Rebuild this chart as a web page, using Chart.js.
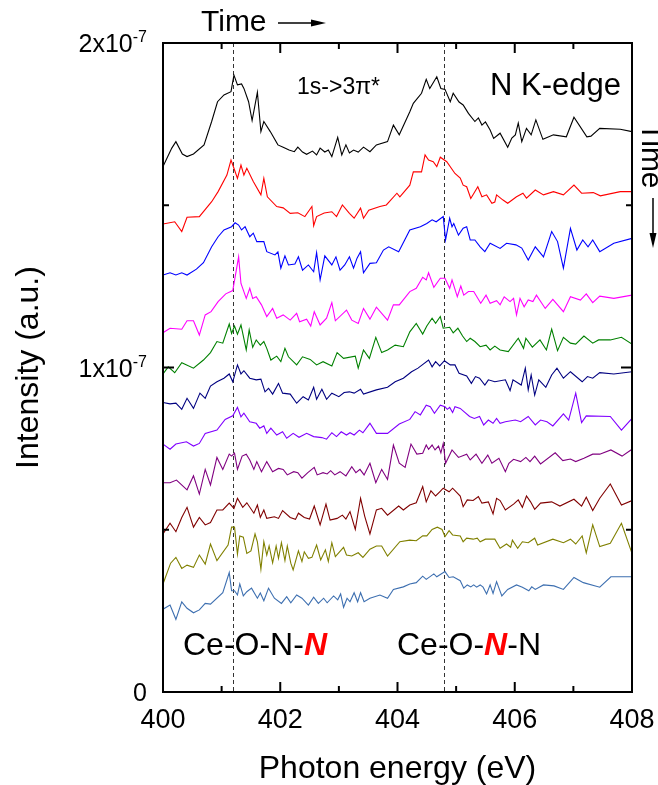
<!DOCTYPE html>
<html>
<head>
<meta charset="utf-8">
<script src="https://cdn.jsdelivr.net/npm/chart.js@4.4.1/dist/chart.umd.min.js"></script>
<style>
html,body{margin:0;padding:0;background:#fff;}
canvas{display:block;}
</style>
</head>
<body>
<canvas id="c" width="658" height="785"></canvas>
<script>
// Intensity values in units of 1e-7 (a.u.), photon energy in eV
const black = [[400.00,1.619],[400.15,1.676],[400.22,1.696],[400.33,1.658],[400.41,1.650],[400.52,1.658],[400.70,1.686],[400.83,1.758],[400.93,1.819],[401.04,1.840],[401.16,1.850],[401.21,1.901],[401.27,1.871],[401.34,1.874],[401.38,1.860],[401.46,1.819],[401.52,1.761],[401.61,1.848],[401.67,1.727],[401.72,1.758],[401.83,1.727],[401.96,1.686],[402.05,1.679],[402.15,1.670],[402.24,1.665],[402.30,1.679],[402.38,1.664],[402.45,1.657],[402.55,1.667],[402.62,1.655],[402.68,1.676],[402.76,1.664],[402.82,1.670],[402.88,1.650],[402.98,1.709],[403.05,1.655],[403.12,1.686],[403.18,1.661],[403.25,1.670],[403.33,1.664],[403.42,1.679],[403.53,1.665],[403.64,1.686],[403.83,1.696],[403.93,1.747],[404.03,1.717],[404.21,1.788],[404.27,1.814],[404.41,1.845],[404.49,1.888],[404.55,1.860],[404.67,1.896],[404.74,1.860],[404.81,1.857],[404.90,1.819],[404.95,1.845],[405.05,1.818],[405.12,1.809],[405.21,1.783],[405.32,1.758],[405.38,1.769],[405.44,1.747],[405.50,1.757],[405.58,1.732],[405.64,1.706],[405.75,1.722],[405.88,1.679],[405.95,1.707],[406.01,1.717],[406.06,1.753],[406.12,1.696],[406.20,1.737],[406.28,1.717],[406.36,1.763],[406.48,1.703],[406.66,1.717],[406.88,1.711],[407.01,1.771],[407.23,1.711],[407.30,1.713],[407.45,1.737],[407.80,1.734],[408.00,1.727]];

const red = [[400.00,1.442],[400.20,1.449],[400.32,1.419],[400.41,1.463],[400.62,1.465],[400.83,1.511],[400.94,1.542],[401.09,1.593],[401.16,1.639],[401.21,1.614],[401.27,1.583],[401.33,1.624],[401.38,1.593],[401.43,1.614],[401.54,1.573],[401.67,1.532],[401.72,1.583],[401.78,1.526],[401.94,1.496],[402.05,1.492],[402.17,1.475],[402.30,1.477],[402.42,1.465],[402.54,1.496],[402.57,1.437],[402.62,1.465],[402.75,1.476],[402.88,1.480],[402.96,1.465],[403.06,1.501],[403.18,1.475],[403.26,1.460],[403.37,1.491],[403.42,1.460],[403.51,1.485],[403.70,1.496],[403.81,1.501],[403.99,1.537],[404.04,1.526],[404.21,1.562],[404.27,1.603],[404.41,1.603],[404.47,1.655],[404.53,1.639],[404.61,1.634],[404.67,1.619],[404.73,1.648],[404.84,1.634],[404.98,1.598],[405.07,1.584],[405.12,1.562],[405.18,1.557],[405.25,1.521],[405.37,1.557],[405.44,1.526],[405.52,1.532],[405.61,1.506],[405.66,1.510],[405.69,1.532],[405.80,1.516],[405.88,1.506],[406.03,1.526],[406.14,1.537],[406.20,1.522],[406.35,1.547],[406.49,1.532],[406.66,1.542],[406.83,1.532],[407.01,1.562],[407.14,1.537],[407.34,1.539],[407.46,1.529],[407.80,1.542],[408.00,1.542]];

const blue = [[400.00,1.285],[400.12,1.292],[400.22,1.285],[400.32,1.292],[400.41,1.285],[400.57,1.303],[400.69,1.323],[400.83,1.372],[400.94,1.403],[401.04,1.424],[401.17,1.434],[401.23,1.446],[401.29,1.439],[401.34,1.424],[401.40,1.434],[401.48,1.403],[401.54,1.414],[401.60,1.388],[401.72,1.388],[401.77,1.357],[401.91,1.347],[401.96,1.356],[402.01,1.306],[402.08,1.344],[402.14,1.316],[402.25,1.319],[402.31,1.341],[402.38,1.300],[402.48,1.316],[402.57,1.295],[402.62,1.354],[402.68,1.270],[402.76,1.344],[402.88,1.316],[402.95,1.341],[403.02,1.300],[403.10,1.316],[403.18,1.341],[403.25,1.306],[403.31,1.337],[403.37,1.357],[403.42,1.292],[403.53,1.321],[403.64,1.323],[403.76,1.362],[403.85,1.372],[404.02,1.357],[404.21,1.424],[404.39,1.434],[404.50,1.444],[404.59,1.455],[404.66,1.449],[404.78,1.465],[404.82,1.393],[404.89,1.460],[404.93,1.434],[404.96,1.444],[405.04,1.408],[405.12,1.429],[405.18,1.434],[405.24,1.393],[405.32,1.393],[405.41,1.372],[405.49,1.357],[405.58,1.383],[405.75,1.367],[405.86,1.383],[406.02,1.378],[406.12,1.368],[406.23,1.331],[406.35,1.372],[406.49,1.341],[406.63,1.419],[406.73,1.388],[406.83,1.306],[406.95,1.429],[407.06,1.362],[407.16,1.393],[407.25,1.372],[407.33,1.393],[407.45,1.357],[407.69,1.383],[408.00,1.398]];

const magenta = [[400.00,1.107],[400.12,1.121],[400.32,1.118],[400.41,1.144],[400.52,1.144],[400.62,1.100],[400.72,1.162],[400.82,1.172],[400.94,1.203],[401.07,1.227],[401.19,1.237],[401.29,1.341],[401.33,1.259],[401.42,1.213],[401.48,1.244],[401.53,1.213],[401.59,1.218],[401.68,1.193],[401.77,1.157],[401.87,1.182],[401.94,1.152],[402.05,1.162],[402.17,1.146],[402.28,1.167],[402.33,1.141],[402.45,1.149],[402.52,1.128],[402.58,1.172],[402.68,1.131],[402.79,1.152],[402.88,1.200],[402.94,1.144],[403.13,1.177],[403.22,1.146],[403.33,1.136],[403.42,1.182],[403.53,1.149],[403.64,1.186],[403.83,1.146],[403.93,1.193],[404.03,1.193],[404.21,1.234],[404.32,1.244],[404.43,1.278],[404.49,1.270],[404.53,1.292],[404.62,1.247],[404.73,1.275],[404.81,1.275],[404.89,1.244],[404.93,1.270],[405.02,1.218],[405.08,1.251],[405.13,1.223],[405.21,1.234],[405.30,1.234],[405.42,1.198],[405.51,1.223],[405.58,1.198],[405.69,1.206],[405.75,1.193],[405.82,1.218],[405.92,1.203],[405.98,1.213],[406.03,1.162],[406.09,1.213],[406.16,1.187],[406.23,1.208],[406.31,1.203],[406.37,1.223],[406.52,1.182],[406.65,1.210],[406.83,1.172],[406.95,1.218],[407.12,1.208],[407.22,1.227],[407.33,1.200],[407.45,1.220],[407.69,1.213],[408.00,1.223]];

const green = [[400.00,0.980],[400.09,1.002],[400.20,0.984],[400.32,1.015],[400.52,0.998],[400.69,1.023],[400.81,1.046],[400.92,1.080],[401.02,1.075],[401.13,1.134],[401.17,1.105],[401.22,1.128],[401.27,1.103],[401.33,1.131],[401.42,1.054],[401.47,1.116],[401.53,1.062],[401.59,1.085],[401.66,1.069],[401.72,1.080],[401.77,1.059],[401.84,1.023],[401.94,1.035],[402.01,1.018],[402.08,1.059],[402.14,1.033],[402.28,1.008],[402.38,1.033],[402.51,1.025],[402.62,1.008],[402.73,1.018],[402.88,1.005],[402.97,1.046],[403.08,1.028],[403.28,1.035],[403.33,0.998],[403.42,1.054],[403.52,1.028],[403.63,1.093],[403.73,1.046],[403.83,1.054],[403.96,1.069],[404.10,1.064],[404.21,1.110],[404.32,1.136],[404.43,1.103],[404.50,1.128],[404.59,1.152],[404.65,1.136],[404.73,1.157],[404.78,1.121],[404.89,1.124],[404.95,1.107],[405.03,1.121],[405.11,1.097],[405.18,1.080],[405.24,1.090],[405.32,1.080],[405.41,1.064],[405.51,1.069],[405.58,1.054],[405.66,1.066],[405.75,1.054],[405.89,1.049],[406.06,1.090],[406.15,1.059],[406.19,1.090],[406.30,1.063],[406.43,1.085],[406.54,1.054],[406.63,1.118],[406.73,1.052],[406.83,1.093],[406.95,1.075],[407.04,1.072],[407.18,1.097],[407.33,1.075],[407.43,1.085],[407.63,1.085],[407.82,1.093],[408.00,1.072]];

const navy = [[400.00,0.892],[400.12,0.888],[400.22,0.890],[400.32,0.871],[400.41,0.905],[400.52,0.874],[400.63,0.921],[400.72,0.905],[400.81,0.943],[400.92,0.956],[401.04,0.967],[401.13,0.980],[401.19,0.956],[401.27,1.008],[401.33,0.980],[401.38,0.990],[401.48,0.967],[401.59,0.962],[401.67,0.964],[401.74,0.925],[401.80,0.936],[401.87,0.918],[401.97,0.951],[402.04,0.921],[402.17,0.918],[402.28,0.890],[402.39,0.910],[402.48,0.900],[402.57,0.939],[402.62,0.902],[402.71,0.933],[402.79,0.902],[402.88,0.921],[403.00,0.910],[403.09,0.923],[403.18,0.925],[403.26,0.921],[403.37,0.933],[403.42,0.918],[403.64,0.931],[403.83,0.939],[403.96,0.956],[404.10,0.967],[404.24,0.987],[404.35,0.998],[404.53,1.023],[404.59,1.002],[404.65,1.018],[404.72,1.005],[404.80,1.021],[404.90,1.008],[404.98,1.008],[405.05,0.982],[405.18,0.974],[405.26,0.951],[405.33,0.972],[405.40,0.967],[405.49,0.946],[405.55,0.962],[405.66,0.956],[405.84,0.962],[405.92,0.929],[405.97,0.962],[406.11,0.946],[406.18,0.998],[406.23,0.931],[406.28,0.977],[406.34,0.915],[406.41,0.962],[406.53,0.939],[406.63,0.977],[406.72,0.998],[406.83,0.967],[406.95,0.987],[407.15,0.956],[407.24,0.972],[407.33,0.967],[407.45,0.984],[407.69,0.980],[408.00,0.987]];

const violet = [[400.00,0.764],[400.12,0.748],[400.22,0.764],[400.40,0.771],[400.52,0.758],[400.62,0.766],[400.72,0.797],[400.92,0.807],[401.06,0.840],[401.19,0.851],[401.27,0.877],[401.33,0.848],[401.38,0.859],[401.48,0.833],[401.59,0.828],[401.65,0.813],[401.72,0.820],[401.77,0.797],[401.84,0.813],[401.94,0.792],[402.04,0.802],[402.11,0.782],[402.22,0.797],[402.32,0.785],[402.45,0.797],[402.57,0.787],[402.71,0.784],[402.79,0.779],[402.88,0.799],[402.96,0.787],[403.04,0.802],[403.13,0.792],[403.19,0.799],[403.26,0.792],[403.35,0.807],[403.41,0.799],[403.53,0.828],[403.64,0.797],[403.83,0.797],[404.03,0.826],[404.21,0.840],[404.30,0.864],[404.39,0.854],[404.49,0.884],[404.56,0.879],[404.63,0.859],[404.73,0.884],[404.81,0.879],[404.85,0.871],[404.89,0.877],[404.94,0.861],[404.98,0.879],[405.07,0.874],[405.23,0.849],[405.31,0.843],[405.40,0.849],[405.47,0.823],[405.55,0.838],[405.63,0.828],[405.69,0.843],[405.75,0.828],[405.84,0.833],[406.01,0.838],[406.10,0.833],[406.23,0.849],[406.35,0.823],[406.44,0.838],[406.55,0.833],[406.65,0.820],[406.83,0.857],[406.92,0.838],[407.04,0.921],[407.14,0.830],[407.22,0.851],[407.63,0.849],[407.82,0.807],[408.00,0.843]];

const purple = [[400.00,0.645],[400.12,0.645],[400.23,0.653],[400.41,0.623],[400.52,0.666],[400.62,0.610],[400.72,0.686],[400.81,0.638],[400.92,0.723],[401.02,0.686],[401.13,0.733],[401.17,0.727],[401.22,0.736],[401.27,0.686],[401.35,0.727],[401.42,0.733],[401.48,0.715],[401.55,0.686],[401.60,0.710],[401.68,0.679],[401.77,0.710],[401.87,0.679],[401.97,0.689],[402.05,0.686],[402.12,0.669],[402.23,0.679],[402.30,0.676],[402.37,0.659],[402.47,0.676],[402.58,0.692],[402.63,0.669],[402.73,0.676],[402.80,0.672],[402.86,0.682],[402.93,0.669],[403.02,0.679],[403.12,0.666],[403.22,0.694],[403.29,0.676],[403.36,0.686],[403.43,0.669],[403.53,0.705],[403.63,0.645],[403.73,0.686],[403.83,0.655],[403.93,0.761],[404.03,0.705],[404.13,0.692],[404.23,0.764],[404.33,0.733],[404.43,0.736],[404.49,0.761],[404.53,0.748],[404.59,0.761],[404.64,0.746],[404.70,0.758],[404.74,0.737],[404.78,0.766],[404.82,0.705],[404.93,0.746],[405.04,0.723],[405.18,0.733],[405.24,0.715],[405.34,0.733],[405.44,0.705],[405.54,0.730],[405.61,0.705],[405.73,0.720],[405.84,0.679],[405.90,0.705],[405.98,0.717],[406.10,0.710],[406.19,0.723],[406.26,0.710],[406.34,0.727],[406.44,0.703],[406.69,0.737],[406.82,0.713],[406.95,0.718],[407.04,0.710],[407.18,0.720],[407.33,0.733],[407.45,0.733],[407.64,0.746],[407.83,0.727],[408.00,0.748]];

const darkred = [[400.00,0.487],[400.12,0.520],[400.22,0.494],[400.32,0.538],[400.41,0.569],[400.52,0.508],[400.62,0.538],[400.72,0.515],[400.81,0.522],[400.92,0.561],[401.02,0.561],[401.13,0.582],[401.21,0.566],[401.27,0.597],[401.36,0.569],[401.43,0.583],[401.55,0.551],[401.61,0.576],[401.66,0.538],[401.72,0.561],[401.77,0.535],[401.90,0.540],[401.97,0.535],[402.04,0.559],[402.17,0.538],[402.26,0.532],[402.31,0.551],[402.41,0.538],[402.50,0.533],[402.58,0.573],[402.68,0.515],[402.78,0.579],[402.85,0.530],[402.97,0.535],[403.06,0.545],[403.12,0.533],[403.19,0.556],[403.28,0.501],[403.37,0.597],[403.44,0.542],[403.53,0.487],[403.64,0.561],[403.73,0.566],[403.83,0.545],[404.02,0.573],[404.10,0.561],[404.21,0.576],[404.32,0.583],[404.43,0.633],[404.49,0.586],[404.57,0.620],[404.65,0.604],[404.72,0.617],[404.78,0.628],[404.88,0.617],[404.94,0.628],[405.07,0.604],[405.12,0.571],[405.19,0.592],[405.29,0.590],[405.38,0.602],[405.44,0.582],[405.55,0.586],[405.63,0.549],[405.69,0.597],[405.75,0.590],[405.84,0.561],[405.98,0.579],[406.06,0.592],[406.13,0.569],[406.20,0.604],[406.27,0.586],[406.34,0.563],[406.44,0.582],[406.63,0.586],[406.77,0.573],[407.01,0.594],[407.14,0.573],[407.22,0.600],[407.33,0.559],[407.45,0.597],[407.63,0.641],[407.82,0.576],[408.00,0.590]];

const olive = [[400.00,0.333],[400.13,0.397],[400.22,0.415],[400.32,0.381],[400.41,0.391],[400.52,0.384],[400.62,0.422],[400.72,0.394],[400.81,0.456],[400.92,0.405],[401.11,0.453],[401.17,0.508],[401.22,0.508],[401.27,0.425],[401.31,0.481],[401.37,0.477],[401.43,0.427],[401.50,0.435],[401.57,0.487],[401.61,0.463],[401.67,0.378],[401.72,0.463],[401.77,0.422],[401.81,0.450],[401.87,0.398],[401.93,0.450],[401.97,0.412],[402.02,0.460],[402.08,0.405],[402.12,0.450],[402.18,0.397],[402.22,0.376],[402.31,0.435],[402.37,0.402],[402.41,0.432],[402.48,0.412],[402.54,0.415],[402.62,0.453],[402.69,0.407],[402.77,0.438],[402.82,0.402],[402.88,0.460],[402.94,0.417],[403.08,0.446],[403.13,0.422],[403.22,0.419],[403.33,0.429],[403.41,0.415],[403.53,0.440],[403.64,0.450],[403.73,0.450],[403.83,0.419],[404.04,0.463],[404.21,0.468],[404.32,0.466],[404.43,0.481],[404.50,0.481],[404.59,0.501],[404.68,0.508],[404.76,0.501],[404.81,0.479],[404.88,0.497],[404.94,0.484],[405.07,0.481],[405.12,0.463],[405.18,0.474],[405.29,0.471],[405.36,0.474],[405.41,0.463],[405.50,0.471],[405.66,0.471],[405.75,0.443],[405.86,0.456],[405.93,0.446],[405.96,0.468],[406.05,0.443],[406.13,0.463],[406.23,0.460],[406.34,0.474],[406.39,0.453],[406.65,0.471],[406.83,0.460],[406.95,0.471],[407.04,0.456],[407.15,0.481],[407.22,0.429],[407.33,0.515],[407.45,0.448],[407.63,0.458],[407.82,0.520],[408.00,0.427]];

const steel = [[400.00,0.255],[400.12,0.268],[400.22,0.224],[400.32,0.278],[400.41,0.258],[400.52,0.244],[400.62,0.253],[400.72,0.273],[400.81,0.271],[401.02,0.306],[401.13,0.368],[401.17,0.312],[401.22,0.312],[401.27,0.299],[401.31,0.333],[401.37,0.296],[401.43,0.309],[401.51,0.320],[401.61,0.289],[401.66,0.305],[401.72,0.281],[401.80,0.320],[401.90,0.289],[402.02,0.273],[402.11,0.294],[402.18,0.275],[402.28,0.299],[402.37,0.289],[402.48,0.268],[402.57,0.292],[402.65,0.273],[402.74,0.289],[402.80,0.275],[402.91,0.296],[402.98,0.284],[403.03,0.302],[403.08,0.261],[403.14,0.289],[403.19,0.278],[403.26,0.306],[403.32,0.278],[403.37,0.306],[403.43,0.278],[403.53,0.289],[403.70,0.299],[403.83,0.289],[403.93,0.316],[404.10,0.324],[404.21,0.333],[404.32,0.337],[404.43,0.357],[404.49,0.347],[404.62,0.364],[404.67,0.355],[404.81,0.371],[404.88,0.353],[404.95,0.355],[405.07,0.343],[405.13,0.320],[405.19,0.330],[405.25,0.324],[405.30,0.330],[405.35,0.323],[405.41,0.330],[405.46,0.323],[405.52,0.302],[405.58,0.330],[405.63,0.304],[405.69,0.340],[405.78,0.296],[405.88,0.316],[406.03,0.330],[406.13,0.323],[406.24,0.312],[406.29,0.324],[406.35,0.316],[406.49,0.330],[406.67,0.327],[406.83,0.316],[407.01,0.353],[407.17,0.337],[407.45,0.323],[407.64,0.355],[408.00,0.355]];

const SERIES = [black, red, blue, magenta, green, navy, violet, purple, darkred, olive, steel];
const COLORS = ['#000000','#ff0000','#0000ff','#ff00ff','#008000','#000080','#8000ff','#800080','#800000','#808000','#3d6fb0'];

const X_MAJOR = [400, 402, 404, 406, 408];
const X_MINOR = [401, 403, 405, 407];
const X_LABELS = ['400', '402', '404', '406', '408'];
const Y_MAJOR = [0, 1, 2];
const Y_MINOR = [0.5, 1.5];
const Y_LABELS = [['0',''], ['1x10','-7'], ['2x10','-7']];
const DASHED_E = [401.2, 404.8];

const FONT = '"Liberation Sans", Arial, sans-serif';

const decor = {
  id: 'decor',
  beforeDatasetsDraw(chart) {
    const ctx = chart.ctx, a = chart.chartArea, xs = chart.scales.x;
    ctx.save();
    ctx.strokeStyle = '#333';
    ctx.lineWidth = 1;
    ctx.setLineDash([4, 3]);
    DASHED_E.forEach(e => {
      const px = Math.round(xs.getPixelForValue(e)) + 0.5;
      ctx.beginPath(); ctx.moveTo(px, a.top); ctx.lineTo(px, a.bottom); ctx.stroke();
    });
    ctx.restore();
  },
  afterDraw(chart) {
    const ctx = chart.ctx, a = chart.chartArea, xs = chart.scales.x, ys = chart.scales.y;
    ctx.save();
    ctx.strokeStyle = '#000';
    ctx.fillStyle = '#000';
    ctx.lineWidth = 2;
    ctx.setLineDash([]);
    ctx.strokeRect(a.left, a.top, a.right - a.left, a.bottom - a.top);
    // ticks
    const tick = (x1, y1, x2, y2) => { ctx.beginPath(); ctx.moveTo(x1, y1); ctx.lineTo(x2, y2); ctx.stroke(); };
    X_MAJOR.forEach(v => { const p = xs.getPixelForValue(v); tick(p, a.bottom, p, a.bottom - 10); tick(p, a.top, p, a.top + 10); });
    X_MINOR.forEach(v => { const p = xs.getPixelForValue(v); tick(p, a.bottom, p, a.bottom - 6); tick(p, a.top, p, a.top + 6); });
    Y_MAJOR.forEach(v => { const p = ys.getPixelForValue(v); tick(a.left, p, a.left + 11, p); tick(a.right, p, a.right - 11, p); });
    Y_MINOR.forEach(v => { const p = ys.getPixelForValue(v); tick(a.left, p, a.left + 6, p); tick(a.right, p, a.right - 6, p); });

    // x tick labels
    ctx.font = '27px ' + FONT;
    ctx.textAlign = 'center';
    ctx.textBaseline = 'alphabetic';
    X_MAJOR.forEach((v, i) => ctx.fillText(X_LABELS[i], xs.getPixelForValue(v), a.bottom + 36));

    // y tick labels with superscript
    Y_MAJOR.forEach((v, i) => {
      const p = ys.getPixelForValue(v);
      const [base, exp] = Y_LABELS[i];
      const right = a.left - 16;
      ctx.textAlign = 'right';
      ctx.font = '16px ' + FONT;
      const ew = exp ? ctx.measureText(exp).width : 0;
      if (exp) ctx.fillText(exp, right, p - 1);
      ctx.font = '25px ' + FONT;
      ctx.fillText(base, right - ew, p + 9);
    });

    // axis titles
    ctx.font = '32px ' + FONT;
    ctx.textAlign = 'center';
    ctx.fillText('Photon energy (eV)', (a.left + a.right) / 2, 778);
    ctx.save();
    ctx.translate(38, (a.top + a.bottom) / 2);
    ctx.rotate(-Math.PI / 2);
    ctx.fillText('Intensity (a.u.)', 0, 0);
    ctx.restore();

    // Top "Time ->"
    ctx.font = '30px ' + FONT;
    ctx.textAlign = 'left';
    ctx.fillText('Time', 201, 31);
    ctx.lineWidth = 1.5;
    tick(278, 23, 314, 23);
    ctx.beginPath(); ctx.moveTo(326, 23); ctx.lineTo(311, 19.5); ctx.lineTo(311, 26.5); ctx.closePath(); ctx.fill();

    // Right "Time" rotated + arrow down
    ctx.save();
    ctx.translate(642, 123);
    ctx.rotate(Math.PI / 2);
    ctx.font = '30px ' + FONT;
    ctx.textAlign = 'left';
    ctx.fillText('Time', 0, 0);
    ctx.restore();
    tick(653, 198, 653, 236);
    ctx.beginPath(); ctx.moveTo(653, 248); ctx.lineTo(649.5, 233); ctx.lineTo(656.5, 233); ctx.closePath(); ctx.fill();

    // annotations
    ctx.font = '23px ' + FONT;
    ctx.textAlign = 'left';
    ctx.fillText('1s->3\u03c0*', 297, 94);
    ctx.font = '31px ' + FONT;
    ctx.fillText('N K-edge', 490, 95);

    const seg = (parts, x, y) => {
      parts.forEach(([t, f, c]) => { ctx.font = f; ctx.fillStyle = c; ctx.fillText(t, x, y); x += ctx.measureText(t).width; });
    };
    const nf = '32px ' + FONT, bf = 'italic bold 32px ' + FONT;
    seg([['Ce-O-N-', nf, '#000'], ['N', bf, '#ff0000']], 183, 655);
    seg([['Ce-O-', nf, '#000'], ['N', bf, '#ff0000'], ['-N', nf, '#000']], 397, 655);
    ctx.restore();
  }
};

new Chart(document.getElementById('c'), {
  type: 'line',
  data: {
    datasets: SERIES.map((s, i) => ({
      data: s.map(([e, v]) => ({ x: e, y: v })),
      borderColor: COLORS[i],
      borderWidth: 1.1,
      pointRadius: 0,
      tension: 0,
      fill: false
    }))
  },
  options: {
    responsive: false,
    animation: false,
    devicePixelRatio: 1,
    layout: { padding: { left: 163, right: 26, top: 43, bottom: 93 } },
    plugins: { legend: { display: false }, tooltip: { enabled: false } },
    scales: {
      x: { type: 'linear', min: 400, max: 408, display: false },
      y: { type: 'linear', min: 0, max: 2, display: false }
    }
  },
  plugins: [decor]
});
</script>
</body>
</html>
